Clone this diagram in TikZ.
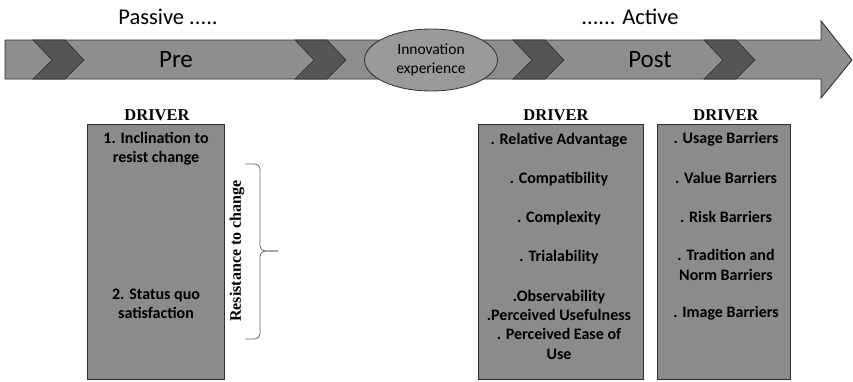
\documentclass[tikz,border=0pt]{standalone}
\usepackage{fontspec}
\setmainfont{Carlito}
\newfontfamily\headfont{Liberation Serif}
\usetikzlibrary{shapes.geometric}
\definecolor{bodygray}{HTML}{8E8E8E}
\definecolor{chevgray}{HTML}{555555}
\definecolor{ovalgray}{HTML}{9A9A9A}
\definecolor{boxgray}{HTML}{8B8B8B}
\definecolor{edgegray}{HTML}{2E2E2E}
\tikzset{
  arrowbody/.style={fill=bodygray, draw=edgegray, line width=0.9pt, line join=miter},
  chevron/.style={fill=chevgray, draw=edgegray, line width=0.6pt},
  stage/.style={font=\fontsize{25}{28}\selectfont, inner sep=0pt},
  phase/.style={font=\fontsize{22.5}{26}\selectfont, inner sep=0pt},
  drvbox/.style={rectangle, fill=boxgray, draw=edgegray, line width=0.9pt, inner sep=0pt},
  drvhead/.style={font=\headfont\bfseries\fontsize{16.5}{18}\selectfont, inner sep=0pt},
  item/.style={font=\bfseries\fontsize{16}{19.3}\selectfont, align=center, inner sep=0pt},
  bracestyle/.style={draw=gray!80!black, line width=0.8pt, rounded corners=5pt},
}
\begin{document}
\begin{tikzpicture}[x=1pt,y=-1pt]
\useasboundingbox (0,0) rectangle (853,381);
\fill[white] (0,0) rectangle (853,381);

% main timeline arrow
\path[arrowbody] (5,40) -- (821,40) -- (821,21) -- (852,60) -- (821,98)
  -- (821,79) -- (5,79) -- cycle;

% chevrons along the timeline
\foreach \cx in {33, 295, 513, 704}{
  \path[chevron] (\cx,40) -- ++(32,0) -- ++(19,20) -- ++(-19,19)
    -- ++(-32,0) -- ++(19,-19) -- cycle;
}

% innovation experience oval
\node[ellipse, fill=ovalgray, draw=edgegray, line width=0.8pt,
      minimum width=133pt, minimum height=62pt, inner sep=0pt,
      align=center, font=\fontsize{15.5}{19}\selectfont] (innov) at (431,60)
      {Innovation\\experience};

% stage labels
\node[stage] (pre) at (176,60) {Pre};
\node[stage] (post) at (650,60) {Post};
\node[phase] (passive) at (168,17) {Passive .....};
\node[phase] (active) at (630,17) {...... Active};

% driver boxes
\node[drvbox, minimum width=137pt, minimum height=255pt] (lbox) at (155.5,251.5) {};
\node[drvbox, minimum width=165pt, minimum height=255pt] (mbox) at (560.5,251.5) {};
\node[drvbox, minimum width=133pt, minimum height=255pt] (rbox) at (723.5,251.5) {};

\node[drvhead] (lhead) at (157,115) {DRIVER};
\node[drvhead] (mhead) at (556,115) {DRIVER};
\node[drvhead] (rhead) at (726,115) {DRIVER};

% pre-adoption drivers
\node[item] (l1) at (156,148.5) {1. Inclination to\\resist change};
\node[item] (l2) at (156,304) {2. Status quo\\satisfaction};

% post-adoption drivers
\node[item] (m1) at (559,140) {. Relative Advantage};
\node[item] (m2) at (559,179) {. Compatibility};
\node[item] (m3) at (559,218) {. Complexity};
\node[item] (m4) at (559,257) {. Trialability};
\node[item] (m5) at (559,324.5) {.Observability\\.Perceived Usefulness\\. Perceived Ease of\\Use};

% post-adoption barriers
\node[item] (r1) at (726,139) {. Usage Barriers};
\node[item] (r2) at (726,178) {. Value Barriers};
\node[item] (r3) at (726,217) {. Risk Barriers};
\node[item] (r4) at (726,265) {. Tradition and\\Norm Barriers};
\node[item] (r5) at (726,313) {. Image Barriers};

% resistance brace
\draw[bracestyle] (245,164) -- (260,164) -- (260,251) -- (278,251);
\draw[bracestyle] (278,251) -- (260,251) -- (260,339) -- (245,339);
\node[drvhead, rotate=90, font=\headfont\bfseries\fontsize{16}{18}\selectfont]
  (resist) at (237,251) {Resistance to change};
\end{tikzpicture}
\end{document}
